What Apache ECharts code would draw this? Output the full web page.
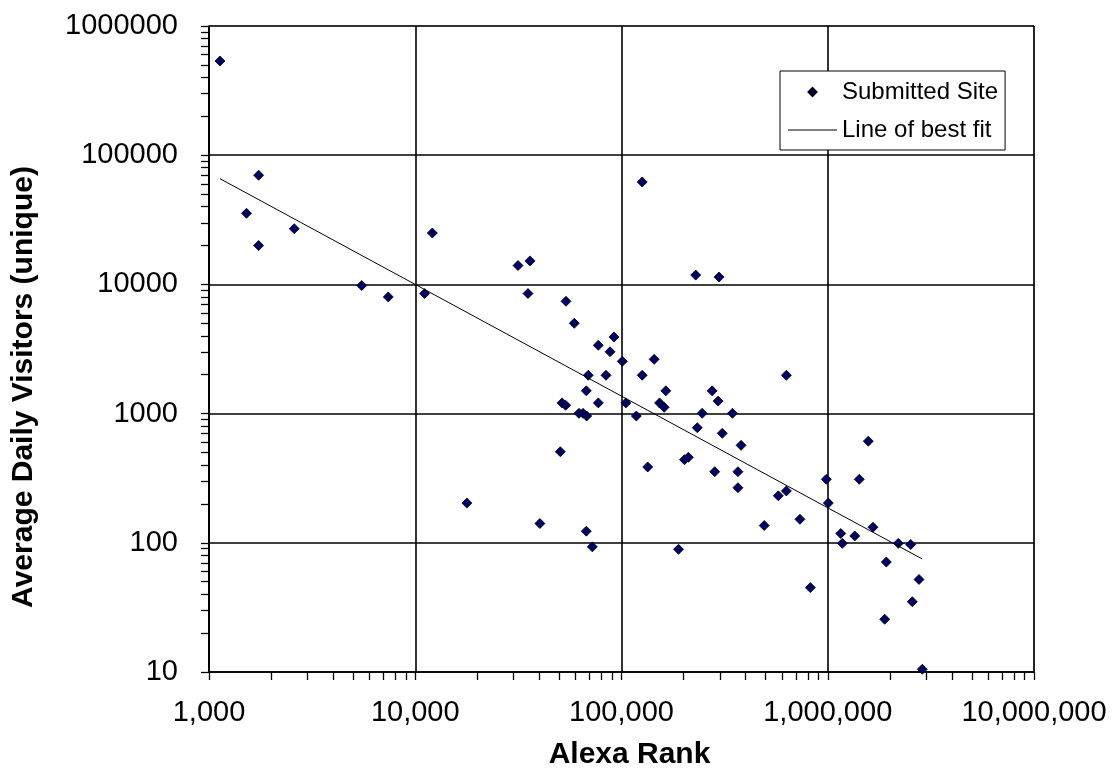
<!DOCTYPE html>
<html>
<head>
<meta charset="utf-8">
<script src="https://cdn.jsdelivr.net/npm/echarts@6/dist/echarts.min.js"></script>
<style>
  html, body { margin: 0; padding: 0; background: #fff; }
  #chart { width: 1113px; height: 768px; }
</style>
</head>
<body>
<div id="chart"></div>
<script>
// Alexa rank vs average daily unique visitors, both log scale
const alexaRank = [
  1130, 1740, 1520, 2590, 1740, 5500, 7400, 11100, 12100, 31500,
  36000, 35200, 53800, 59000, 92000, 77200, 88000, 101000, 144000, 69000,
  84100, 126000, 630000, 67500, 164000, 275000, 77200, 51500, 53600, 105000,
  153000, 161000, 294000, 62200, 65100, 67800, 118000, 246000, 345000, 229000,
  297000, 233000, 308000, 380000, 50500, 134000, 202000, 211000, 283000, 367000,
  367000, 630000, 576000, 40200, 67500, 72200, 189000, 492000, 17800, 1573000,
  984000, 1422000, 1006000, 733000, 1657000, 1156000, 1352000, 1177000, 2198000, 2524000,
  1923000, 2770000, 823000, 2570000, 1888000, 2873000, 126000
];
const dailyVisitors = [
  536000, 70000, 35500, 27000, 20000, 9800, 8000, 8500, 25000, 14000,
  15200, 8500, 7400, 5000, 3920, 3380, 3010, 2540, 2630, 1980,
  1980, 1980, 1980, 1500, 1500, 1500, 1210, 1210, 1160, 1210,
  1210, 1120, 1250, 1005, 1005, 958, 958, 1005, 1005, 11800,
  11400, 778, 704, 568, 507, 386, 440, 459, 355, 355,
  267, 252, 231, 141, 123, 93, 89, 136, 203, 612,
  310, 310, 203, 152, 132, 118, 113, 99, 99, 97,
  71, 52, 45, 35, 25.6, 10.5, 62000
];

// line of best fit, end points
const fitRank = [1130, 2870000];
const fitVisitors = [65800, 75];

const xDecades = [1000, 10000, 100000, 1000000, 10000000];
const yDecades = [10, 100, 1000, 10000, 100000, 1000000];
const minorSteps = [1, 2, 3, 4, 5, 6, 7, 8, 9];

function logTicks(decades) {
  const out = [];
  decades.forEach((d, i) => {
    if (i === decades.length - 1) { out.push(Math.log10(d)); return; }
    minorSteps.forEach(m => out.push(Math.log10(d * m)));
  });
  return out;
}

const FONT = '"Liberation Sans", Arial, sans-serif';
const GRID_LINE = { color: '#000', width: 1.6 };

const chart = echarts.init(document.getElementById('chart'));

const option = {
  animation: false,
  backgroundColor: '#fff',
  grid: {
    left: 209, right: 79, top: 26, bottom: 96,
    outerBoundsMode: 'none',
    containLabel: false,
    show: true, borderColor: '#808080', borderWidth: 1, backgroundColor: '#fff'
  },
  legend: {
    left: 780, top: 71,
    orient: 'vertical',
    padding: [9, 7, 8, 8],
    itemGap: 14,
    itemWidth: 49,
    itemHeight: 8,
    symbolKeepAspect: true,
    borderColor: '#000', borderWidth: 1, borderRadius: 0,
    backgroundColor: '#fff',
    textStyle: { fontFamily: FONT, fontSize: 24, color: '#000' },
    data: [
      { name: 'Submitted Site', icon: 'path://M0,-1L1,0L0,1L-1,0Z' },
      { name: 'Line of best fit', icon: 'path://M0,0L49,0L49,1L0,1Z' }
    ]
  },
  xAxis: [
    {
      type: 'log', logBase: 10, min: 1000, max: 10000000,
      name: 'Alexa Rank', nameLocation: 'middle', nameGap: 68,
      nameTextStyle: { fontFamily: FONT, fontSize: 30, fontWeight: 'bold', color: '#000', padding: [0, 0, 0, 16] },
      axisLine: { onZero: false, lineStyle: GRID_LINE },
      axisTick: { show: false },
      axisLabel: {
        fontFamily: FONT, fontSize: 29, color: '#000', margin: 26,
        formatter: v => Math.round(v).toLocaleString('en-US')
      },
      splitLine: { show: true, lineStyle: GRID_LINE }
    },
    {
      // minor ticks at 2..9 of each decade
      type: 'value', position: 'bottom', offset: 0, min: 3, max: 7,
      axisLine: { show: false, onZero: false },
      axisLabel: { show: false },
      splitLine: { show: false },
      axisTick: { show: true, inside: false, length: 8, lineStyle: { color: '#000', width: 1.3 }, customValues: logTicks(xDecades) }
    }
  ],
  yAxis: [
    {
      type: 'log', logBase: 10, min: 10, max: 1000000,
      name: 'Average Daily Visitors (unique)', nameLocation: 'middle', nameGap: 170,
      nameTextStyle: { fontFamily: FONT, fontSize: 30, fontWeight: 'bold', color: '#000', padding: [0, 76, 0, 0] },
      axisLine: { show: true, onZero: false, lineStyle: GRID_LINE },
      axisTick: { show: false },
      axisLabel: {
        fontFamily: FONT, fontSize: 29, color: '#000', margin: 31,
        formatter: v => String(Math.round(v))
      },
      splitLine: { show: true, lineStyle: GRID_LINE }
    },
    {
      type: 'value', position: 'left', offset: 0, min: 1, max: 6,
      axisLine: { show: false, onZero: false },
      axisLabel: { show: false },
      splitLine: { show: false },
      axisTick: { show: true, inside: false, length: 8, lineStyle: { color: '#000', width: 1.3 }, customValues: logTicks(yDecades) }
    }
  ],
  series: [
    {
      name: 'Submitted Site',
      type: 'scatter',
      symbol: 'diamond',
      symbolSize: 10,
      itemStyle: { color: '#000066', borderColor: '#000', borderWidth: 0.8, opacity: 1 },
      data: alexaRank.map((r, i) => [r, dailyVisitors[i]])
    },
    {
      name: 'Line of best fit',
      type: 'line',
      symbol: 'none',
      showSymbol: false,
      itemStyle: { color: '#000' },
      lineStyle: { color: '#000', width: 1 },
      data: fitRank.map((r, i) => [r, fitVisitors[i]])
    }
  ]
};

chart.setOption(option);
</script>
</body>
</html>
